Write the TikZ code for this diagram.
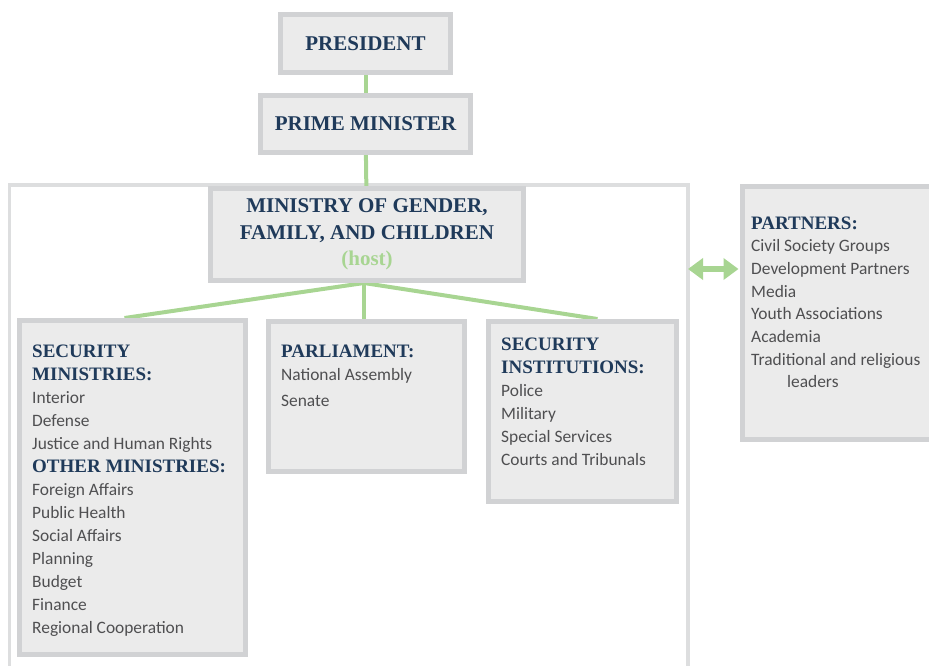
\documentclass[tikz,border=0pt]{standalone}
\usepackage{fontspec}
\setmainfont{Liberation Serif}
\newfontfamily\sansbody{Carlito}
\usetikzlibrary{arrows.meta,backgrounds}
\definecolor{boxfill}{HTML}{EBEBEB}
\definecolor{boxline}{HTML}{D1D2D4}
\definecolor{frameline}{HTML}{DDDEDF}
\definecolor{navy}{HTML}{1F3A5A}
\definecolor{bodygray}{HTML}{4F4F51}
\definecolor{linkgreen}{HTML}{A8D592}
\newcommand\hdfont{\rmfamily\fontsize{19}{23}\selectfont\bfseries\color{navy}}
\newcommand\bigfont{\rmfamily\fontsize{21}{26.5}\selectfont\bfseries}
\newcommand\bdfont{\sansbody\fontsize{17.4}{23}\selectfont}
\begin{document}
\begin{tikzpicture}[x=1pt,y=-1pt,
  box/.style={draw=boxline, fill=boxfill, line width=5pt, inner sep=0pt},
  bigbox/.style={box, font=\bigfont, text=navy},
  link/.style={draw=linkgreen, line width=4pt},
  txt/.style={anchor=north west, inner sep=0pt, align=left, font=\bdfont, text=bodygray}]
\useasboundingbox (0,0) rectangle (929,665);

% boxes
\node[bigbox, minimum width=170pt, minimum height=58pt] (pres) at (365.5,43.5) {PRESIDENT};
\node[bigbox, minimum width=210pt, minimum height=57pt] (pm) at (365.5,124) {PRIME MINISTER};
\node[bigbox, minimum width=313pt, minimum height=92pt, align=center] (min) at (367,234.5)
  {MINISTRY OF GENDER,\\FAMILY, AND CHILDREN\\{\color{linkgreen}(host)}};
\node[box, minimum width=226pt, minimum height=334pt] (secmin) at (132.5,487.5) {};
\node[box, minimum width=196pt, minimum height=150pt] (parl) at (366.5,396.5) {};
\node[box, minimum width=188pt, minimum height=180pt] (secinst) at (582.5,411.5) {};
\node[box, minimum width=195pt, minimum height=253pt] (partners) at (840,313) {};

% box texts
\node[txt] (secmintxt) at (32,344.3) {{\hdfont SECURITY}\\{\hdfont MINISTRIES:}\\Interior\\Defense\\Justice and Human Rights\\{\hdfont OTHER MINISTRIES:}\\Foreign Affairs\\Public Health\\Social Affairs\\Planning\\Budget\\Finance\\Regional Cooperation};
\node[txt] (parltxt) at (281,344.3) {{\hdfont PARLIAMENT:}\\National Assembly\\[3pt]Senate};
\node[txt] (secinsttxt) at (501,337.3) {{\hdfont SECURITY}\\{\hdfont INSTITUTIONS:}\\Police\\Military\\Special Services\\Courts and Tribunals};
\node[txt, font=\sansbody\fontsize{17.4}{22.7}\selectfont] (partnerstxt) at (751,216.3) {{\hdfont\fontsize{19}{22.7}\selectfont PARTNERS:}\\Civil Society Groups\\Development Partners\\Media\\Youth Associations\\Academia\\Traditional and religious\\\hspace*{36pt}leaders};

% frame and connectors behind the boxes
\begin{scope}[on background layer]
  \draw[frameline, line width=3.5pt] (9.5,675) -- (9.5,185) -- (688,185) -- (688,675);
  \draw[link] (pres) -- (pm);
  \draw[link] (pm) -- (min);
  \draw[link] ([xshift=-3pt]min.south) -- ([xshift=-3pt]min.south |- parl.north);
  \draw[link] ([xshift=-3pt]min.south) -- ([xshift=-8pt]secmin.north);
  \draw[link] ([xshift=-3pt]min.south) -- ([xshift=15pt]secinst.north);
\end{scope}

% partners arrow
\coordinate (arrL) at (688,269);
\draw[linkgreen, line width=6pt, shorten >=1.5pt,
  {Triangle[length=15pt,width=21pt]}-{Triangle[length=15pt,width=21pt]}]
  (arrL) -- (arrL -| partners.west);
\end{tikzpicture}
\end{document}
